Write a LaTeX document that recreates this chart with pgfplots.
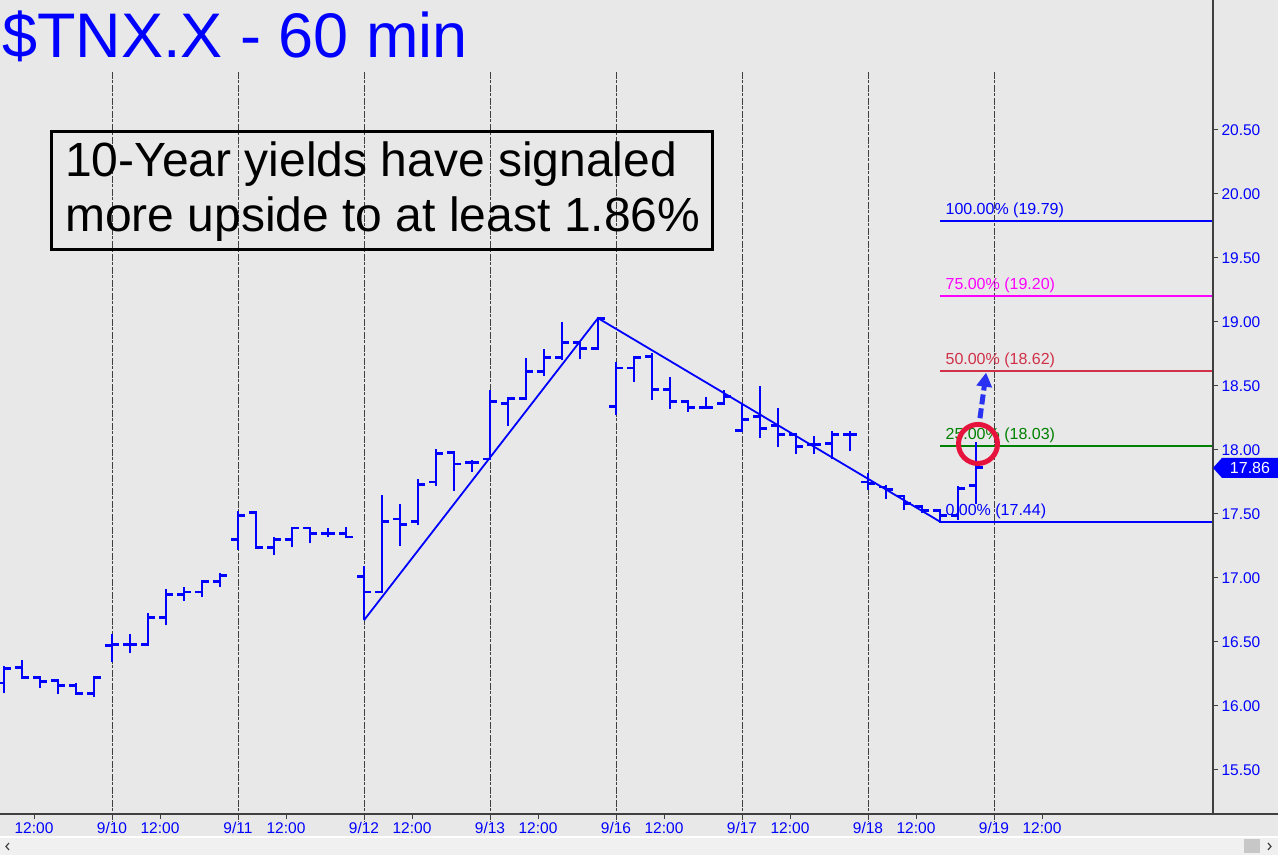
\documentclass[border=0pt]{standalone}
\usepackage{pgfplots}
\pgfplotsset{compat=1.18}
\usepackage{pgfplotstable}
\usepackage{fontspec}
\setmainfont{Liberation Sans}
\usetikzlibrary{arrows.meta,backgrounds}

\definecolor{bg}{RGB}{232,232,232}
\definecolor{strip}{RGB}{240,240,240}
\definecolor{axcol}{RGB}{64,64,64}
\definecolor{fibred}{RGB}{208,48,72}
\definecolor{fibgreen}{RGB}{0,128,0}
\definecolor{fibmag}{RGB}{255,0,255}
\definecolor{circred}{RGB}{230,20,60}
\definecolor{arrcol}{RGB}{40,50,240}

% hourly bars: index, open, high, low, close
\pgfplotstableread{
x  o     h     l     c
-6 16.18 16.31 16.10 16.29
-5 16.30 16.36 16.22 16.22
-4 16.22 16.22 16.14 16.19
-3 16.20 16.20 16.09 16.16
-2 16.16 16.18 16.09 16.10
-1 16.10 16.22 16.07 16.22
0  16.47 16.56 16.34 16.48
1  16.48 16.56 16.41 16.48
2  16.48 16.73 16.47 16.69
3  16.69 16.91 16.63 16.87
4  16.87 16.93 16.82 16.89
5  16.89 16.97 16.85 16.97
6  16.97 17.04 16.93 17.02
7  17.30 17.52 17.22 17.49
8  17.51 17.51 17.24 17.24
9  17.24 17.32 17.18 17.30
10 17.30 17.39 17.24 17.39
11 17.39 17.39 17.27 17.35
12 17.35 17.39 17.32 17.35
13 17.35 17.40 17.31 17.32
14 17.01 17.09 16.67 16.89
15 16.89 17.65 16.89 17.44
16 17.46 17.58 17.25 17.42
17 17.44 17.77 17.41 17.73
18 17.75 18.01 17.72 17.97
19 17.98 17.99 17.68 17.89
20 17.90 17.92 17.83 17.90
21 17.93 18.47 17.93 18.38
22 18.36 18.40 18.19 18.40
23 18.40 18.72 18.40 18.61
24 18.61 18.79 18.58 18.72
25 18.72 19.00 18.70 18.84
26 18.84 18.85 18.71 18.79
27 18.79 19.04 18.79 19.03
28 18.34 18.69 18.27 18.64
29 18.64 18.73 18.53 18.72
30 18.73 18.76 18.39 18.47
31 18.47 18.57 18.32 18.38
32 18.38 18.39 18.30 18.33
33 18.33 18.41 18.33 18.33
34 18.36 18.47 18.35 18.42
35 18.15 18.36 18.14 18.24
36 18.26 18.50 18.09 18.17
37 18.19 18.33 18.02 18.12
38 18.12 18.13 17.97 18.03
39 18.04 18.11 17.97 18.04
40 18.05 18.15 17.93 18.12
41 18.12 18.15 17.99 18.12
42 17.75 17.82 17.69 17.74
43 17.71 17.73 17.62 17.69
44 17.64 17.65 17.53 17.58
45 17.56 17.57 17.51 17.53
46 17.53 17.54 17.43 17.49
47 17.49 17.72 17.45 17.70
48 17.72 18.06 17.58 17.86
}\ohlc

\pgfdeclareplotmark{otick}{\pgfpathmoveto{\pgfpoint{-7bp}{0pt}}\pgfpathlineto{\pgfpoint{0.6bp}{0pt}}\pgfusepathqstroke}
\pgfdeclareplotmark{ctick}{\pgfpathmoveto{\pgfpoint{-0.6bp}{0pt}}\pgfpathlineto{\pgfpoint{7bp}{0pt}}\pgfusepathqstroke}

\begin{document}
\begin{tikzpicture}[x=1bp,y=1bp]
\begin{axis}[
    scale only axis, width=1213bp, height=814bp,
    xmin=-6.2222, xmax=61.1667, ymin=15.15625, ymax=21.515625,
    clip=false, axis line style={draw=none},
    xtick={-4.3333,0,2.6667,7,9.6667,14,16.6667,21,23.6667,28,30.6667,35,37.6667,42,44.6667,49,51.6667},
    xticklabels={12:00,9/10,12:00,9/11,12:00,9/12,12:00,9/13,12:00,9/16,12:00,9/17,12:00,9/18,12:00,9/19,12:00},
    xtick pos=bottom,
    ytick={15.5,16,16.5,17,17.5,18,18.5,19,19.5,20,20.5},
    ytick pos=right, yticklabel pos=right,
    tick align=outside, major tick length=5bp,
    tick style={axcol, line width=1bp},
    ticklabel style={text=blue, font=\fontsize{15.5bp}{17bp}\selectfont},
    yticklabel style={/pgf/number format/.cd, fixed, fixed zerofill, precision=2, assume math mode=true},
]
\coordinate (B) at (rel axis cs:0,0);
\coordinate (tag) at (axis cs:61.1667,17.86);

\pgfplotsinvokeforeach{0,7,14,21,28,35,42,49}{
  \draw[axcol, line width=0.9bp, dash pattern=on 7bp off 1.5bp on 3bp off 1.5bp]
    (axis cs:#1,20.953) -- (axis cs:#1,15.094);
}

% Fibonacci levels
\addplot[blue, line width=2bp] coordinates {(46,19.79) (61.1667,19.79)};
\addplot[fibmag, line width=2bp] coordinates {(46,19.20) (61.1667,19.20)};
\addplot[fibred, line width=2bp] coordinates {(46,18.62) (61.1667,18.62)};
\addplot[fibgreen, line width=2bp] coordinates {(46,18.03) (61.1667,18.03)};
\addplot[blue, line width=2bp] coordinates {(46,17.44) (61.1667,17.44)};

\node[anchor=base west, inner sep=0, text=blue, font=\fontsize{16bp}{18bp}\selectfont] at (axis cs:46.3,19.84) {100.00\% (19.79)};
\node[anchor=base west, inner sep=0, text=fibmag, font=\fontsize{16bp}{18bp}\selectfont] at (axis cs:46.3,19.25) {75.00\% (19.20)};
\node[anchor=base west, inner sep=0, text=fibred, font=\fontsize{16bp}{18bp}\selectfont] at (axis cs:46.3,18.67) {50.00\% (18.62)};
\node[anchor=base west, inner sep=0, text=fibgreen, font=\fontsize{16bp}{18bp}\selectfont] at (axis cs:46.3,18.08) {25.00\% (18.03)};
\node[anchor=base west, inner sep=0, text=blue, font=\fontsize{16bp}{18bp}\selectfont] at (axis cs:46.3,17.49) {0.00\% (17.44)};

% swing trendline
\addplot[blue, line width=1.8bp] coordinates {(14,16.67) (27,19.03) (46,17.44)};

% OHLC bars
\addplot[draw=none, mark=none, error bars/.cd, y dir=plus, y explicit, error mark=none,
  error bar style={draw=blue, line width=2.8bp, line cap=butt}]
  table[x=x, y=l, y error plus expr=\thisrow{h}-\thisrow{l}] {\ohlc};
\addplot[only marks, mark=otick, mark options={draw=blue, line width=2.8bp, line cap=butt}]
  table[x=x, y=o] {\ohlc};
\addplot[only marks, mark=ctick, mark options={draw=blue, line width=2.8bp, line cap=butt}]
  table[x=x, y=c] {\ohlc};

% annotations
\draw[circred, line width=5bp] (axis cs:48.11,18.047) circle[radius=19.5bp];
\draw[arrcol, line width=5bp, dash pattern=on 10bp off 4bp, -{Triangle[width=15bp,length=14bp]}]
  (axis cs:48.22,18.248) -- (axis cs:48.56,18.604);
\end{axis}

\pgfresetboundingbox
\begin{scope}[shift={(B)}, yshift=-41bp]
\path[use as bounding box] (0,0) rectangle (1278,855);
\begin{scope}[on background layer]
\fill[bg] (0,0) rectangle (1278,855);
\fill[white] (0,17) rectangle (1278,19);
\fill[strip] (0,0) rectangle (1278,17);
\fill[black!22] (1244,2) rectangle (1260,16);
\draw[axcol, line width=1.2bp] (9,12) -- (6,8.5) -- (9,5);
\draw[axcol, line width=1.2bp] (1268,12) -- (1271,8.5) -- (1268,5);
\end{scope}
\draw[axcol, line width=1.2bp] (0,41) -- (1278,41);
\draw[axcol, line width=1.2bp] (1213,41) -- (1213,855);

\node[anchor=base west, inner sep=0, text=blue, font=\fontsize{63bp}{70bp}\selectfont] at (2,797) {\$TNX.X - 60 min};
\draw[black, line width=3bp] (52,723) rectangle (713,605);
\node[anchor=base west, inner sep=0, font=\fontsize{48bp}{55bp}\selectfont] at (65,678) {10-Year yields have signaled};
\node[anchor=base west, inner sep=0, font=\fontsize{48bp}{55bp}\selectfont] at (65,623) {more upside to at least 1.86\%};
\end{scope}

% last price tag
\fill[blue] (tag) -- ++(9,10) -- ++(56,0) -- ++(0,-20) -- ++(-56,0) -- cycle;
\node[text=white, inner sep=0, font=\fontsize{16bp}{18bp}\selectfont] at ([xshift=37bp]tag) {17.86};
\end{tikzpicture}
\end{document}
